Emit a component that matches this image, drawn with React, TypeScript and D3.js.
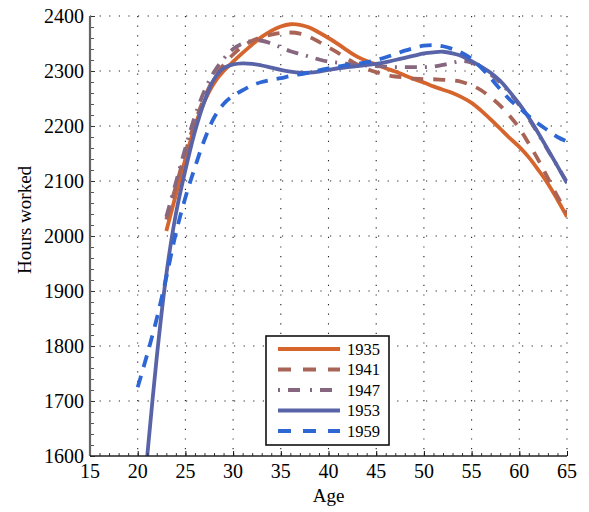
import React, { useEffect, useRef } from "react";
import * as d3 from "d3";

// Ages per cohort
const ages1935 = d3.range(23, 66);
const ages1941 = d3.range(23, 66);
const ages1947 = d3.range(23, 66);
const ages1953 = d3.range(21, 66);
const ages1959 = d3.range(20, 66);

const hours1935 = [
  2009, 2075, 2140, 2200, 2245, 2278, 2300, 2317, 2333, 2348, 2362, 2373, 2381,
  2385, 2384, 2379, 2370, 2360, 2349, 2337, 2326, 2318, 2312, 2305, 2299, 2292,
  2285, 2279, 2272, 2266, 2260, 2252, 2242, 2228, 2212, 2195, 2178, 2162, 2143,
  2120, 2095, 2066, 2035,
];
const hours1941 = [
  2030, 2090, 2152, 2207, 2252, 2287, 2311, 2330, 2345, 2355, 2362, 2366, 2369,
  2370, 2368, 2362, 2353, 2343, 2333, 2322, 2312, 2304, 2298, 2293, 2290, 2288,
  2286, 2285, 2285, 2284, 2283, 2280, 2274, 2265, 2252, 2237, 2218, 2196, 2168,
  2138, 2105, 2072, 2042,
];
const hours1947 = [
  2035, 2097, 2160, 2218, 2264, 2298, 2322, 2340, 2350, 2355, 2355, 2350, 2343,
  2336, 2331, 2326, 2321, 2317, 2315, 2313, 2311, 2310, 2309, 2308, 2307, 2307,
  2307, 2307, 2308, 2311, 2315, 2318, 2315, 2306, 2294, 2279, 2260, 2238, 2213,
  2185, 2156, 2127, 2098,
];
const hours1953 = [
  1600, 1780, 1930, 2040, 2120, 2190, 2245, 2285, 2305, 2312, 2314, 2313, 2310,
  2306, 2302, 2299, 2297, 2297, 2299, 2302, 2305, 2307, 2309, 2311, 2313, 2316,
  2320, 2324, 2328, 2332, 2334, 2335, 2332, 2327, 2318, 2308, 2297, 2282, 2262,
  2240, 2215, 2187, 2157, 2127, 2096,
];
const hours1959 = [
  1725, 1785, 1850, 1925, 2005, 2070, 2125, 2175, 2215, 2240, 2255, 2265, 2274,
  2280, 2284, 2287, 2291, 2294, 2297, 2301, 2305, 2308, 2311, 2313, 2316, 2320,
  2325, 2331, 2337, 2342, 2346, 2347, 2345, 2340, 2333, 2322, 2306, 2287, 2267,
  2248, 2233, 2218, 2204, 2192, 2180, 2172,
];

const cohorts = ["1935", "1941", "1947", "1953", "1959"];
const colors = ["#d6642d", "#a86456", "#86677f", "#5964a8", "#2e67d4"];
const dashes = ["none", "12,10", "12,8,2,8", "none", "12,9"];

const xTicks = d3.range(15, 66, 5);
const yTicks = d3.range(1600, 2401, 100);

const App = () => {
  const svgRef = useRef<SVGSVGElement>(null);

  useEffect(() => {
    const width = 589;
    const height = 512;
    const margin = { top: 16, right: 22, bottom: 56, left: 90 };
    const iw = width - margin.left - margin.right;
    const ih = height - margin.top - margin.bottom;

    d3.select(svgRef.current).selectAll("*").remove();
    const svg = d3
      .select(svgRef.current)
      .attr("width", width)
      .attr("height", height);

    const g = svg
      .append("g")
      .attr("transform", `translate(${margin.left},${margin.top})`);

    const x = d3.scaleLinear().domain([15, 65]).range([0, iw]);
    const y = d3.scaleLinear().domain([1600, 2400]).range([ih, 0]);

    const font = "'Liberation Serif', 'Times New Roman', serif";

    // dotted grid
    g.append("g")
      .selectAll("line")
      .data(xTicks.slice(1))
      .join("line")
      .attr("x1", (d) => x(d))
      .attr("x2", (d) => x(d))
      .attr("y1", 0)
      .attr("y2", ih)
      .attr("stroke", "#222")
      .attr("stroke-width", 1.1)
      .attr("stroke-dasharray", "1.2,8.4");
    g.append("g")
      .selectAll("line")
      .data(yTicks.slice(1))
      .join("line")
      .attr("x1", 0)
      .attr("x2", iw)
      .attr("y1", (d) => y(d))
      .attr("y2", (d) => y(d))
      .attr("stroke", "#222")
      .attr("stroke-width", 1.1)
      .attr("stroke-dasharray", "1.2,8.4");

    // clip
    svg
      .append("defs")
      .append("clipPath")
      .attr("id", "plot-clip")
      .append("rect")
      .attr("width", iw)
      .attr("height", ih);

    const series = [
      { ages: ages1935, hours: hours1935 },
      { ages: ages1941, hours: hours1941 },
      { ages: ages1947, hours: hours1947 },
      { ages: ages1953, hours: hours1953 },
      { ages: ages1959, hours: hours1959 },
    ];

    const line = d3
      .line<[number, number]>()
      .x((d) => x(d[0]))
      .y((d) => y(d[1]))
      .curve(d3.curveCatmullRom);

    const lines = g.append("g").attr("clip-path", "url(#plot-clip)");
    series.forEach((s, i) => {
      const pts = s.ages.map((a, j) => [a, s.hours[j]] as [number, number]);
      lines
        .append("path")
        .attr("d", line(pts))
        .attr("fill", "none")
        .attr("stroke", colors[i])
        .attr("stroke-width", 3.8)
        .attr("stroke-dasharray", dashes[i]);
    });

    // axes: minor + major inward ticks
    const yAxis = g
      .append("g")
      .call(
        d3
          .axisLeft(y)
          .tickValues(d3.range(1600, 2401, 20))
          .tickSize(-3)
          .tickFormat(() => "")
      );
    yAxis.select(".domain").remove();
    yAxis.selectAll("line").attr("stroke", "#555").attr("transform", "translate(1,0)");
    g.append("g")
      .call(d3.axisLeft(y).tickValues(yTicks).tickSize(-5).tickFormat(() => ""))
      .call((a) => a.select(".domain").remove())
      .selectAll("line")
      .attr("stroke", "#333");

    const xAxis = g
      .append("g")
      .attr("transform", `translate(0,${ih})`)
      .call(
        d3
          .axisBottom(x)
          .tickValues(d3.range(15, 66, 1))
          .tickSize(-3)
          .tickFormat(() => "")
      );
    xAxis.select(".domain").remove();
    xAxis.selectAll("line").attr("stroke", "#333");
    g.append("g")
      .attr("transform", `translate(0,${ih})`)
      .call(d3.axisBottom(x).tickValues(xTicks).tickSize(-5).tickFormat(() => ""))
      .call((a) => a.select(".domain").remove())
      .selectAll("line")
      .attr("stroke", "#111");

    g.append("line")
      .attr("x1", 0)
      .attr("x2", 0)
      .attr("y1", 0)
      .attr("y2", ih)
      .attr("stroke", "#666")
      .attr("stroke-width", 2.2);
    g.append("line")
      .attr("x1", 0)
      .attr("x2", iw)
      .attr("y1", ih)
      .attr("y2", ih)
      .attr("stroke", "#222")
      .attr("stroke-width", 1.6);

    // tick labels
    g.append("g")
      .selectAll("text")
      .data(yTicks)
      .join("text")
      .attr("x", -6)
      .attr("y", (d) => y(d))
      .attr("dy", "0.35em")
      .attr("text-anchor", "end")
      .style("font-family", font)
      .style("font-size", "20px")
      .text((d) => d);
    g.append("g")
      .selectAll("text")
      .data(xTicks)
      .join("text")
      .attr("x", (d) => x(d))
      .attr("y", ih + 22)
      .attr("text-anchor", "middle")
      .style("font-family", font)
      .style("font-size", "20px")
      .text((d) => d);

    // axis titles
    svg
      .append("text")
      .attr("x", margin.left + iw / 2)
      .attr("y", 502)
      .attr("text-anchor", "middle")
      .style("font-family", font)
      .style("font-size", "19px")
      .text("Age");
    svg
      .append("text")
      .attr("transform", "rotate(-90)")
      .attr("x", -220)
      .attr("y", 31)
      .attr("text-anchor", "middle")
      .style("font-family", font)
      .style("font-size", "19px")
      .text("Hours worked");

    // legend
    const legend = svg.append("g").attr("transform", "translate(266,336)");
    legend
      .append("rect")
      .attr("width", 123)
      .attr("height", 109)
      .attr("fill", "white")
      .attr("stroke", "#111")
      .attr("stroke-width", 1.6);
    cohorts.forEach((c, i) => {
      const ly = 13 + i * 20.5;
      legend
        .append("line")
        .attr("x1", 12)
        .attr("x2", 74)
        .attr("y1", ly)
        .attr("y2", ly)
        .attr("stroke", colors[i])
        .attr("stroke-width", 4)
        .attr("stroke-dasharray", i === 2 ? "2,8,12,10" : i === 0 || i === 3 ? "none" : "13,12");
      legend
        .append("text")
        .attr("x", 81)
        .attr("y", ly)
        .attr("dy", "0.35em")
        .style("font-family", font)
        .style("font-size", "16.5px")
        .text(c);
    });
  }, []);

  return (
    <svg
      ref={svgRef}
      style={{ position: "absolute", left: 0, top: 0, background: "white" }}
    ></svg>
  );
};

export default App;
